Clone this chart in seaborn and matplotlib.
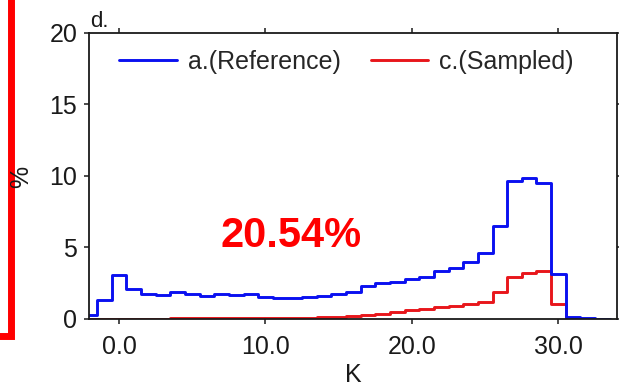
import numpy as np
import pandas as pd
import matplotlib
matplotlib.use("Agg")
import matplotlib.pyplot as plt
import seaborn as sns
from matplotlib.lines import Line2D
from matplotlib.patches import Rectangle

# ---------------- data ----------------
ref_pct = [0.30, 1.30, 3.05, 2.10, 1.77, 1.70, 1.86, 1.77, 1.63, 1.75,
           1.65, 1.75, 1.54, 1.45, 1.45, 1.55, 1.63, 1.74, 1.88, 2.28,
           2.50, 2.56, 2.80, 2.92, 3.35, 3.56, 4.00, 4.60, 6.50, 9.67,
           9.84, 9.50, 3.16, 0.12, 0.05, 0.03]
ref_k = list(range(-2, -2 + len(ref_pct)))

smp_pct = [0.03, 0.03, 0.03, 0.03, 0.03, 0.03, 0.04, 0.05, 0.07, 0.07,
           0.07, 0.07, 0.08, 0.08, 0.10, 0.10, 0.13, 0.17, 0.23, 0.28,
           0.37, 0.50, 0.62, 0.72, 0.82, 0.88, 1.05, 1.16, 1.88, 2.93,
           3.20, 3.33, 1.05, 0.05]
smp_k = list(range(-2, -2 + len(smp_pct)))

series_labels = ["a.(Reference)", "c.(Sampled)"]
series_colors = ["#0a10f0", "#e8161b"]
x_ticks = [0, 10, 20, 30]
x_tick_labels = ["0.0", "10.0", "20.0", "30.0"]
y_ticks = [0, 5, 10, 15, 20]
panel_label = "d."
x_label = "K"
y_label = "%"
annotation = "20.54%"

# ---------------- style ----------------
sns.set_style("ticks")
plt.rcParams['font.family'] = ['Liberation Sans', 'DejaVu Sans']

df = pd.concat([
    pd.DataFrame({"K": ref_k, "pct": ref_pct, "series": series_labels[0]}),
    pd.DataFrame({"K": smp_k, "pct": smp_pct, "series": series_labels[1]}),
], ignore_index=True)

fig = plt.figure(figsize=(6.19, 3.88), dpi=100)
W, H = 619, 388
ax = fig.add_axes([89 / W, 1 - 319 / H, (617 - 89) / W, (319 - 33) / H])

palette = dict(zip(series_labels, series_colors))
sns.histplot(data=df, x="K", weights="pct", hue="series", hue_order=series_labels,
             discrete=True, element="step", fill=False, palette=palette,
             linewidth=2.1, ax=ax, legend=False, common_bins=False)

ax.set_xlim(-2.05, 34.0)
ax.set_ylim(0, 20)
ax.set_xticks(x_ticks)
ax.set_xticklabels(x_tick_labels)
ax.set_yticks(y_ticks)
ax.set_xlabel(x_label, fontsize=18, color="#1a1a1a", labelpad=3)
ax.set_ylabel("")

for s in ax.spines.values():
    s.set_visible(True)
    s.set_color("#1a1a1a")
    s.set_linewidth(1.3)
ax.tick_params(axis="both", direction="out", length=3.5, width=1.1,
               colors="#1a1a1a", labelsize=18, top=True, right=True)
ax.tick_params(axis="x", pad=8)
ax.tick_params(axis="y", pad=5)

handles = [Line2D([0], [0], color=c, lw=2.1) for c in series_colors]
ax.legend(handles, series_labels, loc="center left",
          bbox_to_anchor=((119 - 89) / 528, (319 - 62) / 286),
          ncol=2, frameon=False, fontsize=18, borderaxespad=0, borderpad=0,
          handlelength=2.3, handletextpad=0.45, columnspacing=1.2)

fig.text(291 / W, 1 - 236 / H, annotation, color="#ff0000", fontsize=30,
         fontweight="bold", ha="center", va="center")
fig.text(90 / W, 1 - 27 / H, panel_label, fontsize=16, color="#1a1a1a",
         ha="left", va="baseline")
fig.text(21 / W, 1 - 177 / H, y_label, fontsize=18, color="#1a1a1a",
         rotation=90, ha="center", va="center")

rect = Rectangle((-100 / W, 1 - 336 / H), (100 + 10.5) / W, 400 / H,
                 transform=fig.transFigure, fill=False, edgecolor="#ff0000",
                 linewidth=5, clip_on=False)
fig.add_artist(rect)

fig.savefig("out.png", dpi=100)
